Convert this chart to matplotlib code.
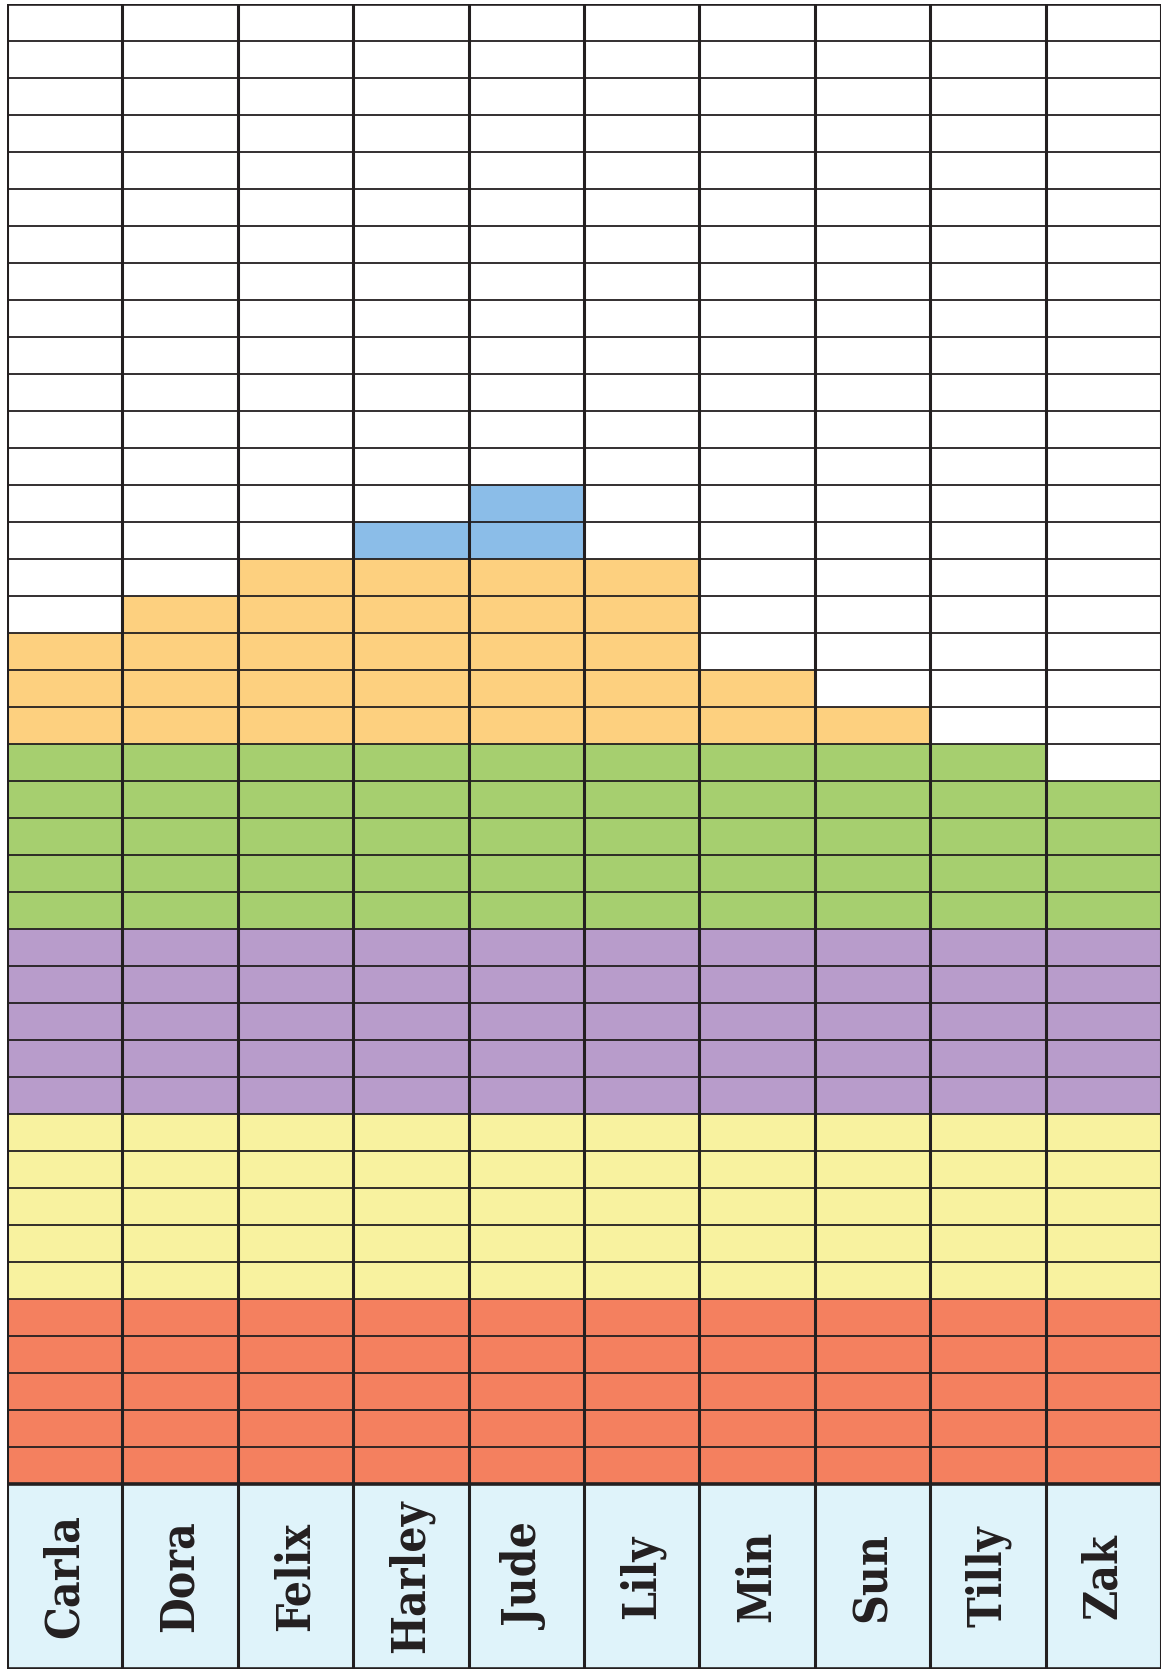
import matplotlib
matplotlib.use("Agg")
import matplotlib.pyplot as plt
import numpy as np

names = ["Carla", "Dora", "Felix", "Harley", "Jude", "Lily", "Min", "Sun", "Tilly", "Zak"]

# squares per student, stacked from the bottom up
red = [5, 5, 5, 5, 5, 5, 5, 5, 5, 5]
yellow = [5, 5, 5, 5, 5, 5, 5, 5, 5, 5]
purple = [5, 5, 5, 5, 5, 5, 5, 5, 5, 5]
green = [5, 5, 5, 5, 5, 5, 5, 5, 5, 4]
orange = [3, 4, 5, 5, 5, 5, 2, 1, 0, 0]
blue = [0, 0, 0, 1, 2, 0, 0, 0, 0, 0]

layers = [red, yellow, purple, green, orange, blue]
colors = ["#f4805f", "#f8f29f", "#b89ccb", "#a6cf6f", "#fdd07f", "#8bbde8"]

n_rows = 40
label_rows = 5
ink = "#231f20"

fig = plt.figure(figsize=(11.62, 16.70), dpi=100)
ax = fig.add_axes([7 / 1162, 1 / 1670, 1154 / 1162, 1665 / 1670])
ax.set_xlim(0, len(names))
ax.set_ylim(-label_rows, n_rows)
ax.axis("off")

x = np.arange(len(names))

# light blue strip holding the names
ax.bar(x, [label_rows] * len(names), bottom=-label_rows, width=1, align="edge",
       color="#dff3fa", linewidth=0)

bottom = np.zeros(len(names))
for vals, c in zip(layers, colors):
    ax.bar(x, vals, bottom=bottom, width=1, align="edge", color=c, linewidth=0)
    bottom += np.array(vals)

# grid: thin rows, thicker columns
for r in range(1, n_rows):
    ax.axhline(r, color=ink, lw=1.3, zorder=3)
ax.axhline(0, color=ink, lw=2.6, zorder=4)
ax.axhline(n_rows, color=ink, lw=2.6, zorder=4)
ax.axhline(-label_rows, color=ink, lw=2.6, zorder=4)
for c in range(len(names) + 1):
    ax.axvline(c, color=ink, lw=2.2, zorder=4)

for i, name in enumerate(names):
    ax.text(i + 0.5, -label_rows / 2, name, rotation=90, ha="center", va="center",
            fontsize=33, fontweight="bold", fontstretch="condensed",
            family="DejaVu Serif", color=ink)

fig.savefig("out.png", dpi=100)
